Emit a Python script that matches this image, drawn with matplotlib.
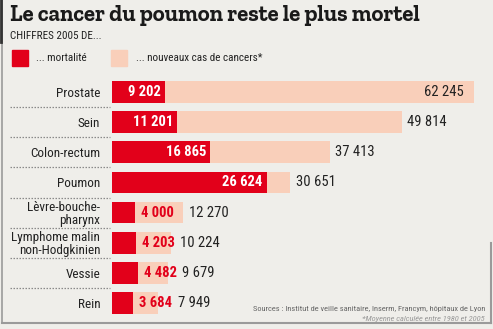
import matplotlib
matplotlib.use("Agg")
import matplotlib.pyplot as plt
import matplotlib.transforms as mtransforms

categories = ["Prostate", "Sein", "Colon-rectum", "Poumon",
              "Lèvre-bouche-\npharynx", "Lymphome malin\nnon-Hodgkinien",
              "Vessie", "Rein"]
mortalite = [9202, 11201, 16865, 26624, 4000, 4203, 4482, 3684]
nouveaux_cas = [62245, 49814, 37413, 30651, 12270, 10224, 9679, 7949]

title = "Le cancer du poumon reste le plus mortel"
subtitle = "CHIFFRES 2005 DE..."
legend_labels = ["... mortalité", "... nouveaux cas de cancers*"]
source = "Sources : Institut de veille sanitaire, Inserm, Francym, hôpitaux de Lyon"
note = "*Moyenne calculée entre 1980 et 2005"

RED = "#e2001a"
PINK = "#f9cfba"
BG = "#efeeea"
NARROW = ["Roboto Condensed", "Fira Sans Condensed", "DejaVu Sans"]
SLAB = ["Zilla Slab", "DejaVu Serif"]


def fmt(v):
    return f"{v:,}".replace(",", " ")


W, H = 493, 329
fig = plt.figure(figsize=(W / 100, H / 100), dpi=100, facecolor=BG)

# bars axes (pixel placement)
left, right, top, bottom = 112, 480, 77, 318
ax = fig.add_axes([left / W, 1 - bottom / H, (right - left) / W, (bottom - top) / H])
ax.set_facecolor("none")
ypos = list(range(len(categories)))
ax.barh(ypos, nouveaux_cas, height=0.72, color=PINK, zorder=1)
ax.barh(ypos, mortalite, height=0.72, color=RED, zorder=2)
ax.set_xlim(0, 63300)
ax.set_ylim(len(categories) - 0.5, -0.5)
ax.set_xticks([])
ax.set_yticks(ypos)
ax.set_yticklabels(categories, fontsize=9.5, family=NARROW, color="#222222",
                   linespacing=1.0)
ax.tick_params(axis="y", length=0, pad=8.5)
for s in ax.spines.values():
    s.set_visible(False)

# dotted separators between rows
trans = mtransforms.blended_transform_factory(fig.transFigure, ax.transData)
for i in range(len(categories) - 1):
    ax.plot([10 / W, 110 / W], [i + 0.5, i + 0.5], transform=trans,
            color="#8a8a8a", lw=0.9, ls=(0, (1.2, 1.2)), clip_on=False)

# value labels
fig.canvas.draw()
renderer = fig.canvas.get_renderer()
inv = ax.transData.inverted()
for i, (m, n) in enumerate(zip(mortalite, nouveaux_cas)):
    if m > 8000:
        ax.annotate(fmt(m), (m, i), xytext=(-3, 0), textcoords="offset points",
                    ha="right", va="center", color="white", fontsize=10.5,
                    fontweight="bold", family=NARROW, zorder=3)
        end = n
    else:
        t = ax.annotate(fmt(m), (m, i), xytext=(4, 0), textcoords="offset points",
                        ha="left", va="center", color=RED, fontsize=10.5,
                        fontweight="bold", family=NARROW, zorder=3)
        bb = t.get_window_extent(renderer)
        end = max(n, inv.transform((bb.x1, 0))[0])
    if i == 0:
        ax.annotate(fmt(n), (n, i), xytext=(-7, 0), textcoords="offset points",
                    ha="right", va="center", color="#222222", fontsize=10.5,
                    family=NARROW, zorder=3)
    else:
        ax.annotate(fmt(n), (end, i), xytext=(4, 0), textcoords="offset points",
                    ha="left", va="center", color="#222222", fontsize=10.5,
                    family=NARROW, zorder=3)

# title, subtitle, legend
fig.text(10 / W, 1 - 16 / H, title, fontsize=16.3, fontweight="bold",
         family=SLAB, color="#1a1a1a", va="center", ha="left")
fig.text(10 / W, 1 - 36 / H, subtitle, fontsize=8, family=NARROW,
         color="#222222", va="center", ha="left")
fig.patches.append(plt.Rectangle((12 / W, 1 - 66 / H), 16 / W, 16 / H,
                                 transform=fig.transFigure, color=RED))
fig.text(36 / W, 1 - 58 / H, legend_labels[0], fontsize=8, family=NARROW,
         color="#222222", va="center", ha="left")
fig.patches.append(plt.Rectangle((111 / W, 1 - 66 / H), 16 / W, 16 / H,
                                 transform=fig.transFigure, color=PINK))
fig.text(136 / W, 1 - 58 / H, legend_labels[1], fontsize=8, family=NARROW,
         color="#222222", va="center", ha="left")

# sources
fig.text(485 / W, 1 - 309 / H, source, fontsize=6, family=NARROW,
         color="#666666", va="center", ha="right")
fig.text(485 / W, 1 - 319 / H, note, fontsize=6, family=NARROW,
         style="italic", color="#999999", va="center", ha="right")

# frame
fig.add_artist(plt.Line2D([2 / W, 2 / W], [1 - 323 / H, 1], color="#9a9a9a",
                          lw=1.2, transform=fig.transFigure))
fig.add_artist(plt.Line2D([1 / W, 1 / W], [1 - 42 / H, 1], color="#333333",
                          lw=2, transform=fig.transFigure))
fig.add_artist(plt.Line2D([2 / W, 491 / W], [1 - 323 / H, 1 - 323 / H],
                          color="#9a9a9a", lw=1.5, transform=fig.transFigure))
fig.add_artist(plt.Line2D([491 / W, 491 / W], [1 - 323 / H, 1 - 243 / H],
                          color="#9a9a9a", lw=1.5, transform=fig.transFigure))

fig.savefig("out.png", dpi=100, facecolor=BG)
